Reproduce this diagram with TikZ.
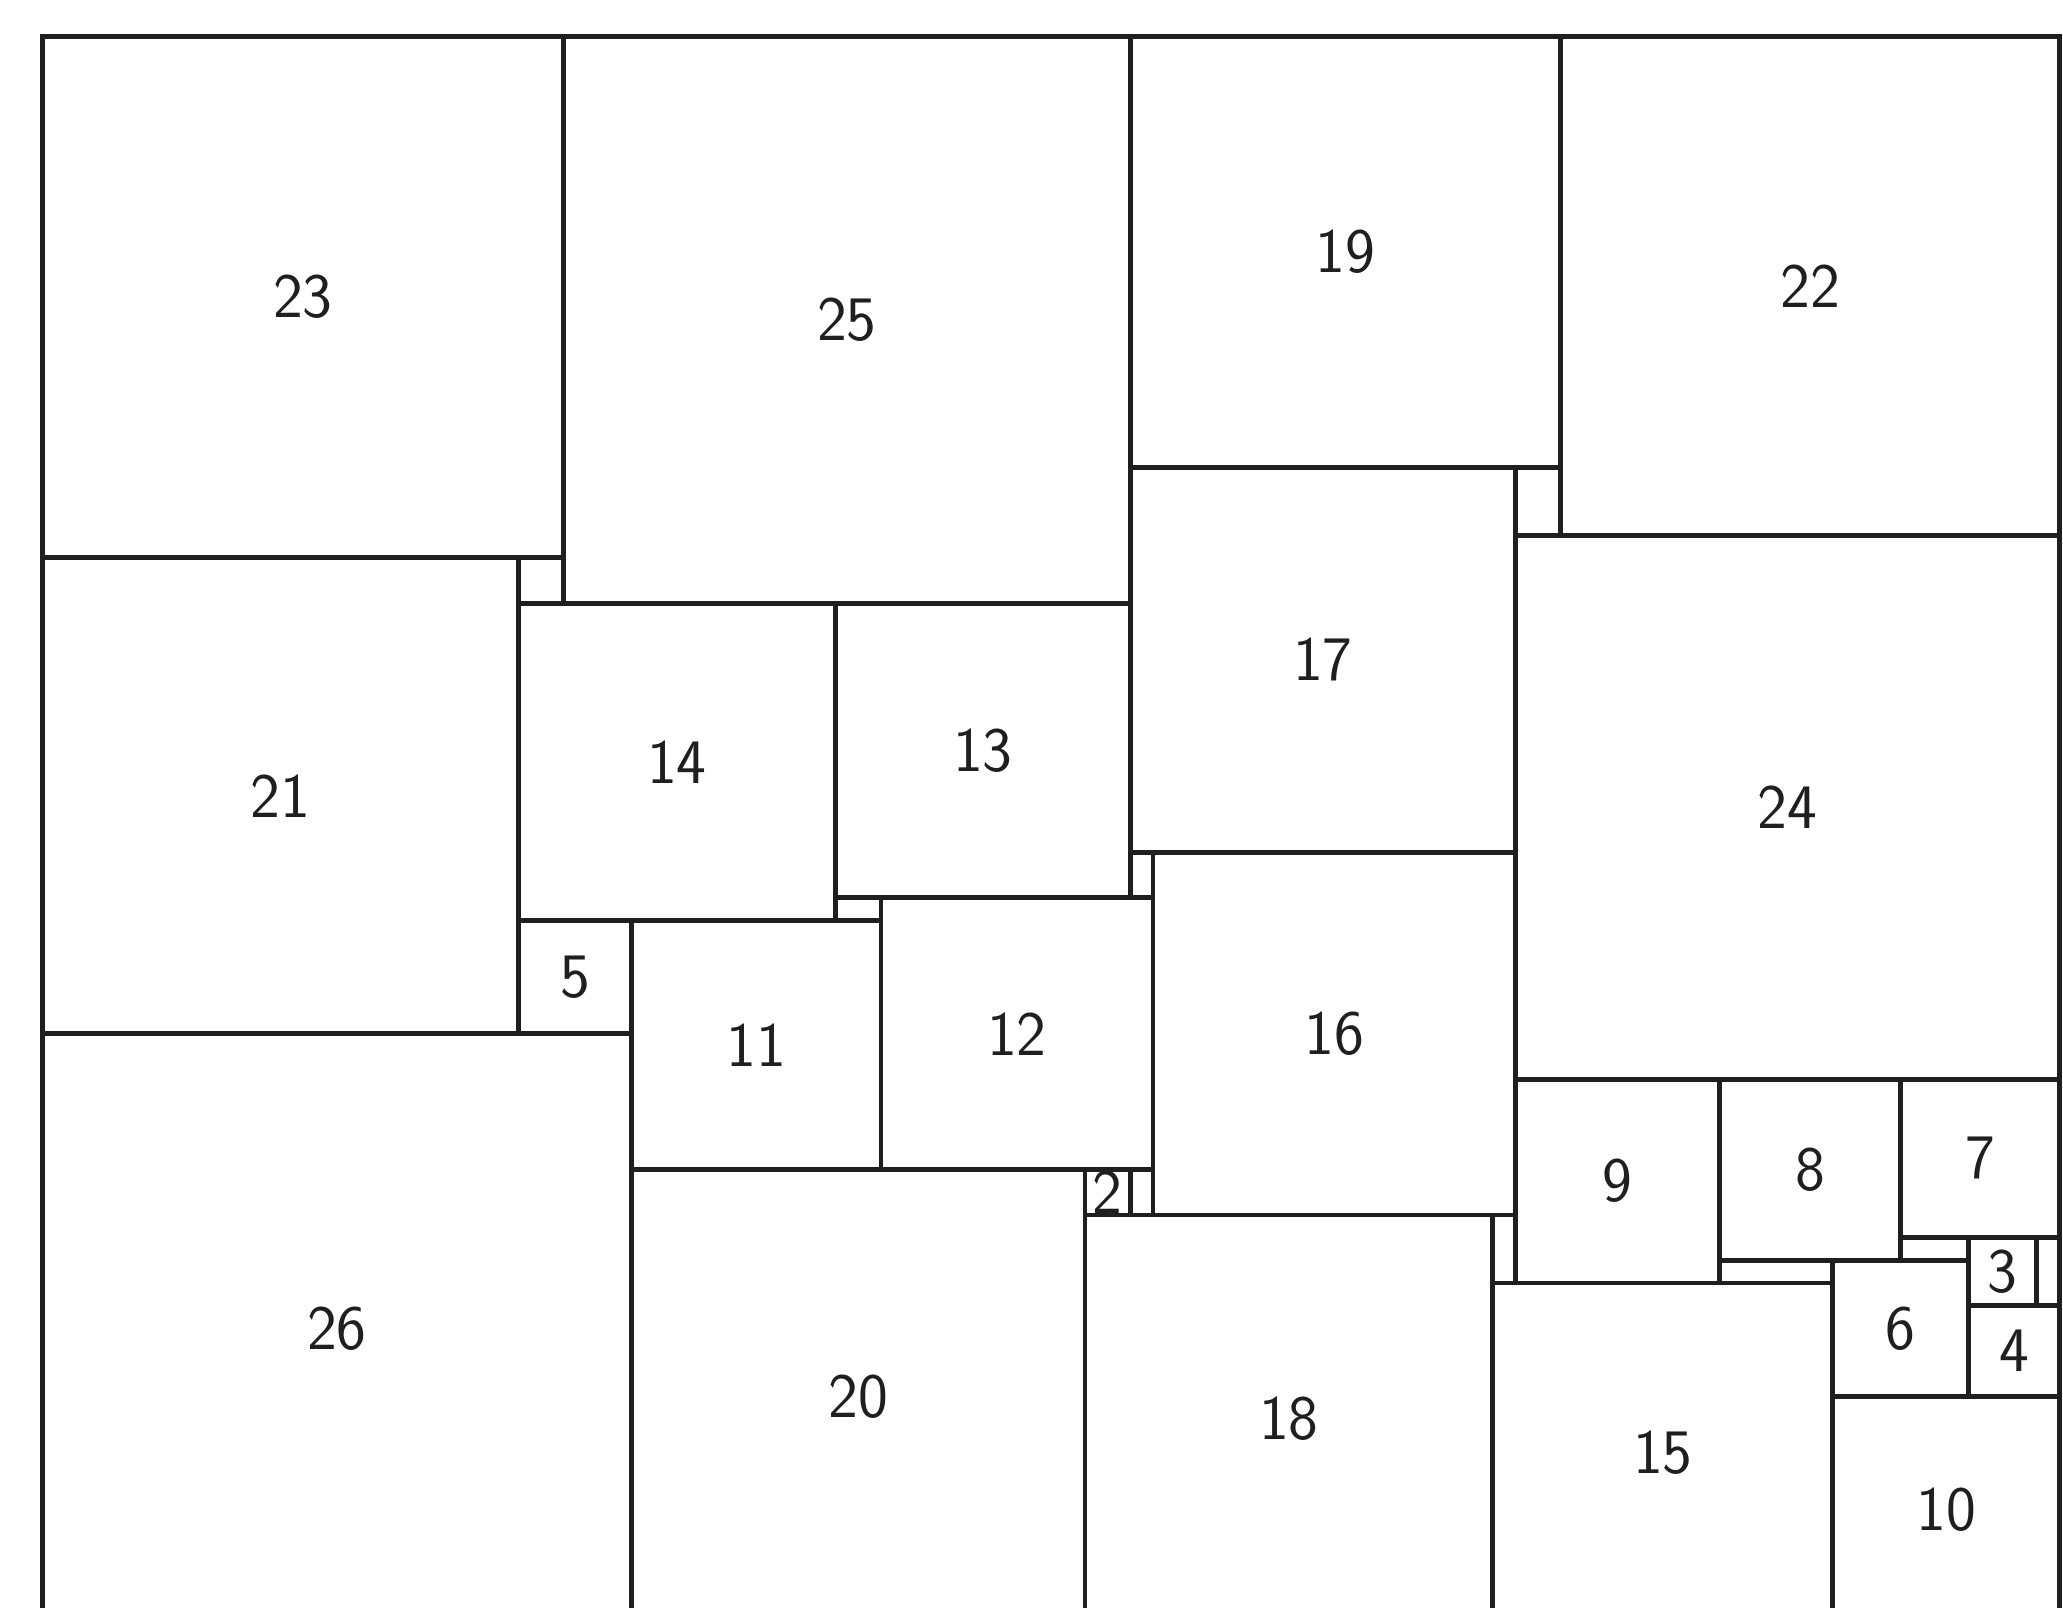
\documentclass[tikz,border=0pt]{standalone}
\usepackage{tikz}
\tikzset{
  sqbox/.style={draw=black!88, line width=1.2pt},
  sqlabel/.style={font=\sffamily\fontsize{15.9}{19}\selectfont, text=black!88, inner sep=0pt}
}
\begin{document}
\begin{tikzpicture}[x=2mm,y=-2mm]
  \useasboundingbox (-1.866,-1.61) rectangle (89.154,69.33);
  \clip (-1.866,-1.61) rectangle (89.154,69.33);
  % outer frame (89 x 70)
  \draw[sqbox] (0,0) rectangle (89,70);
  % squares: left/top corner/side
  \foreach \x/\y/\s in {0/0/23, 23/0/25, 48/0/19, 67/0/22, 0/23/21, 21/25/14,
      35/25/13, 48/19/17, 65/22/24, 21/39/5, 26/39/11, 37/38/12, 49/36/16,
      0/44/26, 26/50/20, 46/50/2, 46/52/18, 65/46/9, 74/46/8, 82/46/7,
      64/55/15, 79/54/6, 85/53/3, 85/56/4, 79/60/10}{
    \draw[sqbox] (\x,\y) rectangle ++(\s,\s);
    \node[sqlabel] (sq\s) at (\x+\s/2,\y+\s/2) {\s};
  }
\end{tikzpicture}
\end{document}
